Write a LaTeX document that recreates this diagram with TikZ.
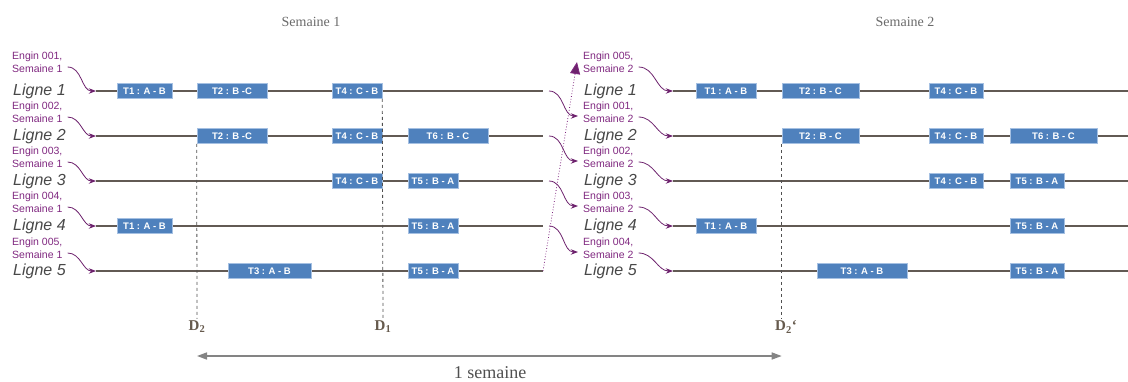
\documentclass[tikz,border=0pt]{standalone}
\usepackage{fontspec}
\setmainfont{Liberation Serif}
\setsansfont{Liberation Sans}
\usepackage{tikz}
\usetikzlibrary{arrows.meta}
\definecolor{voie}{RGB}{98,90,84}
\definecolor{bleu}{RGB}{79,129,189}
\definecolor{bord}{RGB}{165,192,226}
\definecolor{violet}{RGB}{128,40,128}
\definecolor{gris}{RGB}{80,80,80}
\tikzset{>/.tip={Stealth[scale=1.1]},
  tache/.style={fill=bleu, draw=bord, line width=0.6pt, inner sep=0pt, minimum height=15pt, text=white, font=\sffamily\bfseries\fontsize{9.5}{9.5}\selectfont},
  voie/.style={draw=voie, line width=2.2pt},
  engin/.style={text=violet, align=left, anchor=west, inner sep=0pt, font=\sffamily\fontsize{10.5}{13}\selectfont},
  ligne/.style={text=gris!90!black, anchor=base west, inner sep=0pt, font=\sffamily\itshape\fontsize{16}{16}\selectfont},
  fleche/.style={->, draw=violet!85!black, line width=0.8pt},
  pointille/.style={draw=gris, line width=0.8pt, dash pattern=on 3pt off 3pt},
  dlabel/.style={text=gris!80!brown, inner sep=2pt, font=\bfseries\fontsize{15}{15}\selectfont},
  titre/.style={text=gris!85, font=\fontsize{14}{14}\selectfont}
}

\begin{document}
\begin{tikzpicture}[x=1pt, y=-1pt]
\useasboundingbox (0,0) rectangle (1128,381);

\node[titre] (sem1) at (311,22) {Semaine 1};
\node[titre] (sem2) at (905,22) {Semaine 2};

\foreach \l in {1,...,5}
{
  \coordinate (s\l) at (96,{46+45*\l});
  \coordinate (e\l) at (543,{46+45*\l});
  \coordinate (u\l) at (673,{46+45*\l});
  \coordinate (v\l) at (1128,{46+45*\l});
  \draw[voie] (s\l) -- (e\l);
  \draw[voie] (u\l) -- (v\l);
  \node[ligne] (la\l) at (13,{50+45*\l}) {Ligne \l};
  \node[ligne] (lb\l) at (584,{50+45*\l}) {Ligne \l};
}

\foreach \a/\b/\l/\t in {117/172/1/T1 : A - B, 197/267/1/T2 : B -C, 332/382/1/T4 : C - B,
  197/267/2/T2 : B -C, 332/382/2/T4 : C - B, 408/488/2/T6 : B - C,
  332/382/3/T4 : C - B, 408/458/3/T5 : B - A,
  117/172/4/T1 : A - B, 408/458/4/T5 : B - A,
  228/311/5/T3 : A - B, 408/458/5/T5 : B - A,
  696/756/1/T1 : A - B, 782/859/1/T2 : B - C, 929/983/1/T4 : C - B,
  782/859/2/T2 : B - C, 929/983/2/T4 : C - B, 1010/1097/2/T6 : B - C,
  929/983/3/T4 : C - B, 1010/1064/3/T5 : B - A,
  696/756/4/T1 : A - B, 1010/1064/4/T5 : B - A,
  817/907/5/T3 : A - B, 1010/1064/5/T5 : B - A}
{
  \node[tache, minimum width={(\b-\a)*1pt}] (b\l-\a) at ({(\a+\b)/2},{46+45*\l}) {\t};
}

\foreach \l/\n/\y in {1/001/62, 2/002/112, 3/003/157, 4/004/202, 5/005/248}
{
  \node[engin] (a\l) at (12,\y) {Engin \n,\\Semaine 1};
  \draw[fleche] ([shift={(5pt,-5pt)}]a\l.east) to[out=0,in=180] (s\l);
}
\foreach \l/\n/\y in {1/005/62, 2/001/112, 3/002/157, 4/003/202, 5/004/248}
{
  \node[engin] (f\l) at (583,\y) {Engin \n,\\Semaine 2};
  \draw[fleche] ([shift={(5pt,-5pt)}]f\l.east) to[out=0,in=180] (u\l);
}
\foreach \l/\m in {1/2,2/3,3/4,4/5}
{
  \draw[fleche] ([xshift=6pt]e\l) to[out=0,in=180] ([shift={(-5pt,-4pt)}]f\m.west);
}
\draw[violet, dotted, line width=0.8pt, -{Triangle[length=12pt,width=10pt,fill=violet!85!black]}] (e5) -- ([xshift=-6pt]f1.west);

\node[dlabel] (d2) at (197,327) {D\textsubscript{2}};
\node[dlabel] (d1) at (383,327) {D\textsubscript{1}};
\node[dlabel, anchor=west] (d2b) at (773,327) {D\textsubscript{2}‘};
\draw[pointille] (b2-197.south west) -- (d2.north);
\draw[pointille] (b1-332.south east) -- (d1.north);
\draw[pointille] (b2-782.south west) -- (b2-782.south west |- d2b.north);

\draw[{Triangle[length=10pt,width=7pt]}-{Triangle[length=10pt,width=7pt]}, draw=gris!70, line width=1.5pt]
  (d2 |- 0,356) -- (b2-782.south west |- 0,356);
\node[text=gris, font=\fontsize{18}{18}\selectfont] (duree) at (490,373) {1 semaine};
\end{tikzpicture}
\end{document}
